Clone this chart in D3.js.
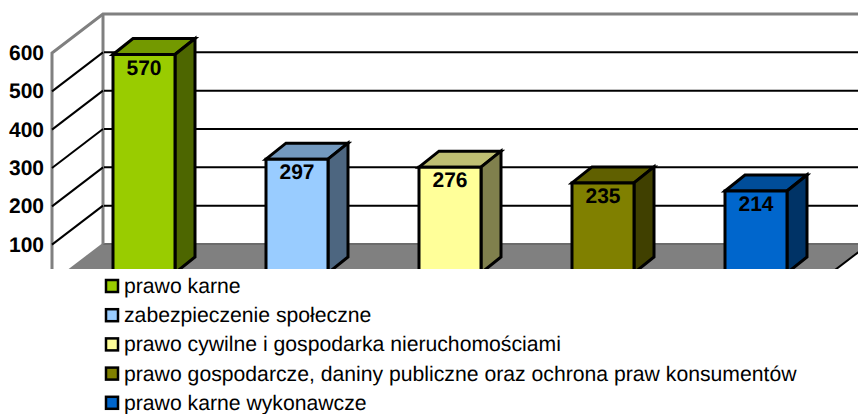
<!DOCTYPE html>
<html><head><meta charset="utf-8">
<script src="https://cdn.jsdelivr.net/npm/d3@7"></script>
<style>html,body{margin:0;padding:0;background:#fff}svg{display:block}text{font-family:"Liberation Sans",Arial,sans-serif;text-rendering:geometricPrecision}</style>
</head><body><div id="c"></div>
<script>
const categories=["prawo karne","zabezpieczenie społeczne","prawo cywilne i gospodarka nieruchomościami","prawo gospodarcze, daniny publiczne oraz ochrona praw konsumentów","prawo karne wykonawcze"];
const values=[570,297,276,235,214];
const ticks=[100,200,300,400,500,600];
const frontColors=["#99cc00","#99ccff","#ffff99","#808000","#0066cc"];
const topColors=["#739900","#7399bf","#bfbf73","#606000","#004d99"];
const sideColors=["#4d6600","#4d6680","#80804d","#404000","#003366"];

const W=858,H=414,clipB=269;
const svg=d3.select("#c").append("svg").attr("width",W).attr("height",H);
svg.append("defs").append("clipPath").attr("id","plot").append("rect").attr("x",0).attr("y",0).attr("width",W).attr("height",clipB);
const g=svg.append("g").attr("clip-path","url(#plot)");

const yBack=d3.scaleLinear().domain([0,600]).range([244,14]);
const wallDx=-51,wallDy=39;
const x=d3.scalePoint().domain(d3.range(5)).range([113,725]);
const barW=62,barDx=20,barDy=16,barFrontDy=29;
const floorR=869;

// floor
g.append("path").attr("d",`M103,244L${floorR},244L${floorR+wallDx},${244+wallDy}L${103+wallDx},${244+wallDy}Z`).attr("fill","#808080");
g.append("line").attr("x1",floorR).attr("y1",244).attr("x2",floorR+wallDx).attr("y2",244+wallDy).attr("stroke","#000").attr("stroke-width",2);
g.append("line").attr("x1",103).attr("y1",244).attr("x2",W).attr("y2",244).attr("stroke","#6b6b6b").attr("stroke-width",2);
// walls
g.append("path").attr("d",`M${103+wallDx},${clipB+5}L${103+wallDx},${14+wallDy}L103,14L${W+5},14`).attr("fill","none").attr("stroke","#808080").attr("stroke-width",3);
g.append("line").attr("x1",103).attr("x2",103).attr("y1",14).attr("y2",244).attr("stroke","#808080").attr("stroke-width",3);
// gridlines
ticks.filter(t=>t<600).forEach(t=>{
  const y=yBack(t);
  g.append("line").attr("x1",104).attr("x2",W).attr("y1",y).attr("y2",y).attr("stroke","#000").attr("stroke-width",2);
});
[0].concat(ticks.filter(t=>t<600)).forEach(t=>{
  const y=yBack(t);
  g.append("line").attr("x1",103).attr("y1",y).attr("x2",103+wallDx).attr("y2",y+wallDy).attr("stroke",t===0?"#808080":"#000").attr("stroke-width",2);
});
// bars
values.forEach((v,i)=>{
  const l=x(i), r=l+barW;
  const top=yBack(v)+barFrontDy, bot=yBack(0)+barFrontDy;
  const sh=(p,f)=>g.append("path").attr("d",p).attr("fill",f).attr("stroke","#000").attr("stroke-width",3);
  sh(`M${l},${top}L${l+barDx},${top-barDy}L${r+barDx},${top-barDy}L${r},${top}Z`,topColors[i]);
  sh(`M${r},${top}L${r+barDx},${top-barDy}L${r+barDx},${bot-barDy}L${r},${bot}Z`,sideColors[i]);
  sh(`M${l},${top}L${r},${top}L${r},${bot}L${l},${bot}Z`,frontColors[i]);
  g.append("text").attr("x",(l+r)/2).attr("y",top+20).attr("text-anchor","middle").attr("font-size",21).attr("font-weight","bold").attr("fill","#000").text(v);
});
// tick labels
ticks.forEach(t=>{
  svg.append("text").attr("x",44).attr("y",yBack(t)+wallDy+7).attr("text-anchor","end").attr("font-size",21).attr("font-weight","bold").attr("fill","#000").text(t);
});
// legend
categories.forEach((c,i)=>{
  const y=287+29.2*i;
  svg.append("rect").attr("x",106).attr("y",y-7).attr("width",12).attr("height",12).attr("fill",frontColors[i]).attr("stroke","#000").attr("stroke-width",2.5);
  svg.append("text").attr("x",124).attr("y",y+6).attr("font-size",21.2).attr("fill","#000").text(c);
});
</script></body></html>
